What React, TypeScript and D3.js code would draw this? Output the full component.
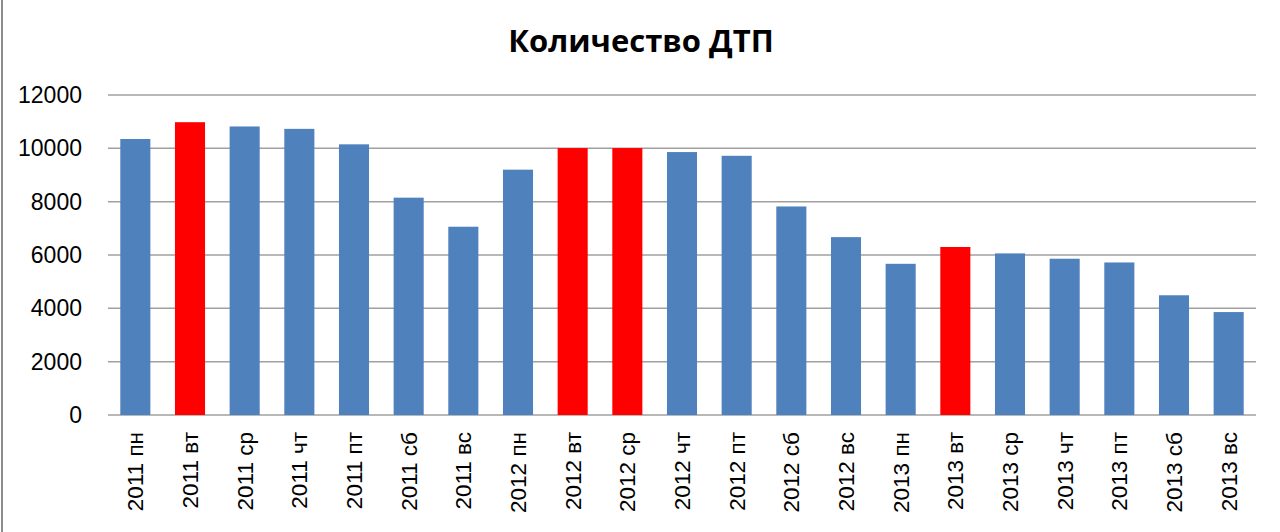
import * as d3 from 'd3';

const years = ['2011', '2012', '2013'];
const weekdays = ['пн', 'вт', 'ср', 'чт', 'пт', 'сб', 'вс'];
const categories = years.flatMap((y) => weekdays.map((w) => `${y} ${w}`));

// количество ДТП по дням недели
const values = [
  10350, 10980, 10820, 10730, 10150, 8150, 7060,
  9200, 10010, 10010, 9860, 9720, 7820, 6670,
  5670, 6300, 6060, 5860, 5720, 4490, 3860
];
// выделенные красным
const highlighted = ['2011 вт', '2012 вт', '2012 ср', '2013 вт'];
const yTicks = [0, 2000, 4000, 6000, 8000, 10000, 12000];

export default function App() {
  const width = 1280;
  const height = 532;
  const left = 108;
  const right = 1256;
  const top = 95;
  const bottom = 415;

  const x = d3
    .scaleBand<string>()
    .domain(categories)
    .range([left, right])
    .paddingInner(0.45)
    .paddingOuter(0.225);

  const y = d3.scaleLinear().domain([0, 12000]).range([bottom, top]);

  const font = '"Liberation Sans", Arial, sans-serif';

  return (
    <svg
      width={width}
      height={height}
      style={{ position: 'absolute', left: 0, top: 0, background: '#fff' }}
    >
      <line x1={2} x2={2} y1={0} y2={height} stroke="#8c8c8c" strokeWidth={2} />
      <text
        x={641}
        y={52}
        textAnchor="middle"
        style={{ font: `bold 31px "Open Sans", sans-serif` }}
        fill="#000"
      >
        Количество ДТП
      </text>

      {/* сетка и подписи оси Y */}
      {yTicks.map((t) => (
        <g key={t}>
          <line
            x1={left}
            x2={right}
            y1={y(t)}
            y2={y(t)}
            stroke="#a0a0a0"
            strokeWidth={1.5}
          />
          <text
            x={82}
            y={y(t)}
            dy="0.35em"
            textAnchor="end"
            style={{ font: `23px ${font}` }}
            fill="#000"
          >
            {t}
          </text>
        </g>
      ))}

      {/* столбцы */}
      {categories.map((c, i) => (
        <rect
          key={c}
          x={x(c)}
          y={y(values[i])}
          width={x.bandwidth()}
          height={y(0) - y(values[i])}
          fill={highlighted.includes(c) ? '#ff0000' : '#4f81bd'}
        />
      ))}

      {/* подписи оси X */}
      {categories.map((c) => {
        const cx = (x(c) ?? 0) + x.bandwidth() / 2;
        return (
          <text
            key={c}
            transform={`translate(${cx},432) rotate(-90)`}
            dy="0.35em"
            textAnchor="end"
            style={{ font: `22.5px ${font}` }}
            fill="#000"
          >
            {c}
          </text>
        );
      })}
    </svg>
  );
}
